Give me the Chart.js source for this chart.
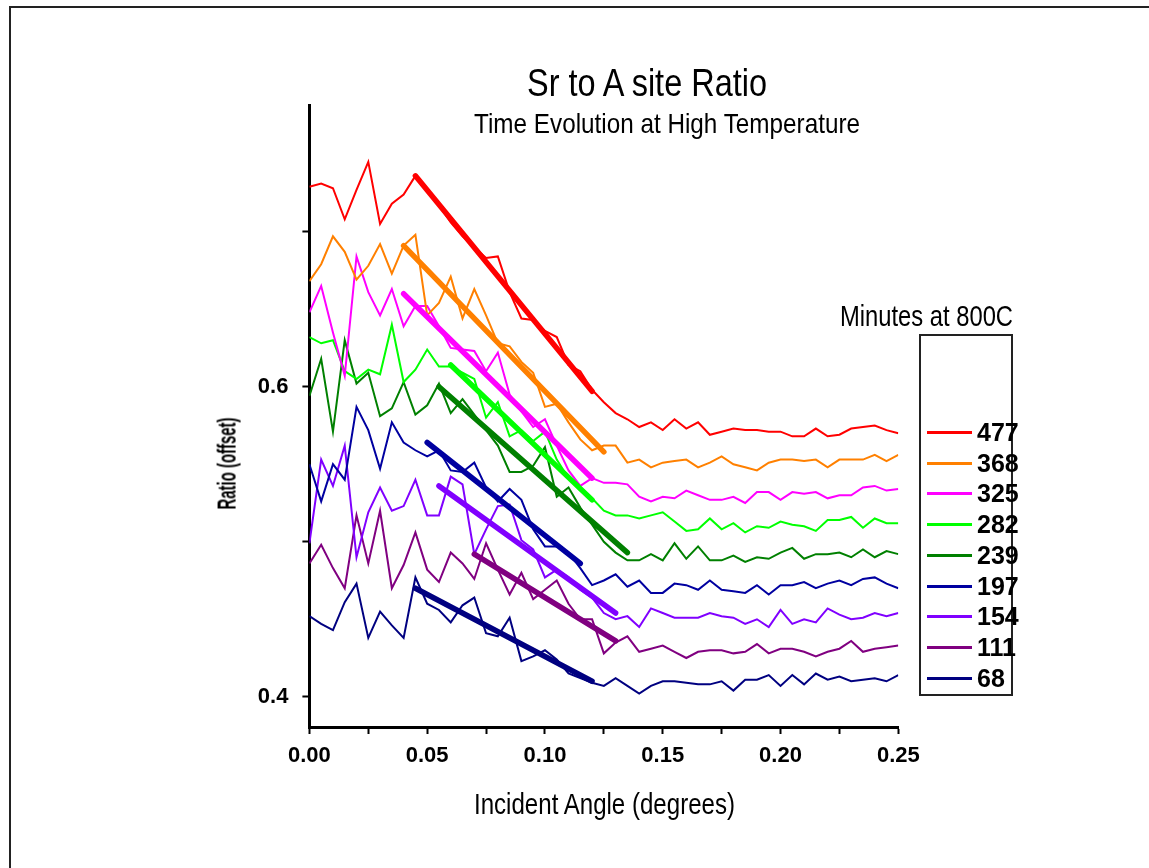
<!DOCTYPE html>
<html>
<head>
<meta charset="utf-8">
<script src="https://cdn.jsdelivr.net/npm/chart.js@4.4.1/dist/chart.umd.min.js"></script>
<style>
  html, body { margin:0; padding:0; background:#fff; width:1149px; height:868px; overflow:hidden; }
  #wrap { position:relative; width:1149px; height:868px; overflow:hidden; }
  #c { position:absolute; left:0; top:0; }
  .fl { position:absolute; left:9px; top:6px; width:2px; height:862px; background:#222; }
  .ft { position:absolute; left:9px; top:6px; width:1140px; height:2px; background:#222; }
  .t { position:absolute; white-space:nowrap; line-height:1; color:#000; font-family:'Liberation Sans Narrow','Arial Narrow','Liberation Sans',Arial,sans-serif; transform-origin:0 0; }
  .legbox { position:absolute; left:919px; top:334px; width:90px; height:358px; border:2px solid #222; }
  .legline { position:absolute; height:3px; width:45px; left:927px; }
</style>
</head>
<body>
<div id="wrap">
  <div class="fl"></div>
  <div class="ft"></div>
  <canvas id="c" width="1149" height="868"></canvas>
  <div class="legbox"></div>
</div>
<script>
// ---------- data ----------
const xValues = [0,0.005,0.01,0.015,0.02,0.025,0.03,0.035,0.04,0.045,0.05,0.055,0.06,0.065,0.07,0.075,0.08,0.085,0.09,0.095,0.1,0.105,0.11,0.115,0.12,0.125,0.13,0.135,0.14,0.145,0.15,0.155,0.16,0.165,0.17,0.175,0.18,0.185,0.19,0.195,0.2,0.205,0.21,0.215,0.22,0.225,0.23,0.235,0.24,0.245,0.25];

const seriesLabels = ['477','368','325','282','239','197','154','111','68'];
const seriesColors = ['#ff0000','#ff8000','#ff00ff','#00ff00','#008000','#0000a0','#8000ff','#800080','#000080'];

const s477 = [0.729,0.731,0.728,0.708,0.727,0.745,0.705,0.718,0.724,0.736,0.726,0.717,0.706,0.697,0.690,0.683,0.684,0.661,0.644,0.643,0.636,0.632,0.614,0.610,0.598,0.590,0.583,0.579,0.574,0.577,0.572,0.579,0.573,0.577,0.569,0.571,0.573,0.572,0.572,0.571,0.571,0.568,0.568,0.573,0.568,0.569,0.573,0.574,0.575,0.572,0.570];
const s368 = [0.668,0.679,0.697,0.687,0.669,0.678,0.692,0.673,0.691,0.698,0.646,0.654,0.671,0.644,0.663,0.646,0.628,0.626,0.616,0.609,0.587,0.589,0.577,0.566,0.559,0.562,0.562,0.551,0.553,0.548,0.551,0.552,0.553,0.548,0.551,0.555,0.550,0.548,0.546,0.551,0.553,0.553,0.552,0.553,0.548,0.553,0.553,0.553,0.556,0.552,0.556];
const s325 = [0.648,0.665,0.635,0.607,0.684,0.661,0.646,0.663,0.639,0.652,0.652,0.639,0.625,0.624,0.623,0.610,0.622,0.595,0.584,0.574,0.579,0.562,0.546,0.536,0.541,0.538,0.538,0.537,0.529,0.526,0.529,0.528,0.533,0.530,0.527,0.527,0.529,0.525,0.532,0.532,0.527,0.532,0.531,0.532,0.528,0.530,0.530,0.535,0.536,0.533,0.534];
const s282 = [0.632,0.628,0.630,0.610,0.605,0.611,0.608,0.640,0.603,0.611,0.624,0.613,0.613,0.609,0.605,0.580,0.590,0.568,0.572,0.565,0.571,0.553,0.541,0.533,0.528,0.520,0.517,0.517,0.515,0.517,0.519,0.513,0.507,0.508,0.515,0.508,0.512,0.506,0.510,0.509,0.513,0.511,0.510,0.507,0.514,0.514,0.516,0.509,0.515,0.512,0.512];
const s239 = [0.594,0.618,0.571,0.630,0.602,0.609,0.581,0.586,0.603,0.582,0.588,0.602,0.583,0.592,0.582,0.572,0.562,0.545,0.545,0.549,0.561,0.529,0.535,0.522,0.511,0.500,0.493,0.488,0.488,0.492,0.488,0.499,0.489,0.497,0.488,0.488,0.491,0.487,0.490,0.489,0.493,0.496,0.489,0.492,0.492,0.493,0.490,0.495,0.490,0.494,0.492];
const s197 = [0.550,0.526,0.550,0.540,0.587,0.572,0.547,0.577,0.564,0.559,0.555,0.559,0.546,0.545,0.551,0.535,0.526,0.534,0.527,0.508,0.497,0.497,0.493,0.483,0.472,0.475,0.479,0.471,0.475,0.467,0.467,0.473,0.472,0.469,0.475,0.469,0.468,0.467,0.472,0.466,0.472,0.472,0.474,0.470,0.473,0.475,0.472,0.476,0.477,0.473,0.470];
const s154 = [0.499,0.553,0.536,0.562,0.490,0.519,0.535,0.520,0.523,0.540,0.517,0.517,0.542,0.537,0.492,0.508,0.523,0.524,0.501,0.495,0.477,0.482,0.477,0.469,0.464,0.454,0.450,0.452,0.445,0.457,0.454,0.451,0.451,0.451,0.454,0.452,0.451,0.447,0.450,0.445,0.456,0.447,0.450,0.448,0.457,0.453,0.450,0.451,0.454,0.452,0.454];
const s111 = [0.486,0.498,0.483,0.470,0.517,0.486,0.520,0.470,0.485,0.506,0.482,0.474,0.493,0.486,0.476,0.499,0.482,0.466,0.480,0.463,0.469,0.475,0.460,0.450,0.450,0.428,0.435,0.439,0.429,0.431,0.433,0.429,0.425,0.429,0.430,0.430,0.428,0.429,0.434,0.428,0.431,0.431,0.429,0.426,0.429,0.431,0.436,0.429,0.431,0.432,0.433];
const s68  = [0.452,0.447,0.443,0.461,0.473,0.438,0.455,0.446,0.438,0.477,0.460,0.456,0.448,0.459,0.464,0.441,0.439,0.451,0.423,0.426,0.430,0.424,0.415,0.412,0.409,0.407,0.412,0.407,0.402,0.407,0.410,0.410,0.409,0.408,0.408,0.410,0.404,0.411,0.411,0.414,0.407,0.414,0.408,0.415,0.411,0.413,0.410,0.411,0.412,0.410,0.414];

// linear-fit segments (start/end angle, start/end ratio)
const fitX477 = [0.045, 0.120], fitY477 = [0.736, 0.597];
const fitX368 = [0.040, 0.125], fitY368 = [0.691, 0.558];
const fitX325 = [0.040, 0.120], fitY325 = [0.660, 0.541];
const fitX282 = [0.060, 0.120], fitY282 = [0.614, 0.527];
const fitX239 = [0.055, 0.135], fitY239 = [0.600, 0.493];
const fitX197 = [0.050, 0.115], fitY197 = [0.564, 0.486];
const fitX154 = [0.055, 0.130], fitY154 = [0.536, 0.454];
const fitX111 = [0.070, 0.130], fitY111 = [0.492, 0.436];
const fitX68  = [0.045, 0.120], fitY68  = [0.470, 0.410];

const xTickValues = [0,0.025,0.05,0.075,0.1,0.125,0.15,0.175,0.2,0.225,0.25];
const xTickLabels = ['0.00','','0.05','','0.10','','0.15','','0.20','','0.25'];
const yTickValues = [0.4,0.5,0.6,0.7];
const yTickLabels = ['0.4','','0.6',''];

const titleText = 'Sr to A site Ratio';
const subtitleText = 'Time Evolution at High Temperature';
const xTitleText = 'Incident Angle (degrees)';
const yTitleText = 'Ratio (offset)';
const legendTitleText = 'Minutes at 800C';

// ---------- build ----------
const seriesData = [s477,s368,s325,s282,s239,s197,s154,s111,s68];
const fitData = [[fitX477,fitY477],[fitX368,fitY368],[fitX325,fitY325],[fitX282,fitY282],[fitX239,fitY239],[fitX197,fitY197],[fitX154,fitY154],[fitX111,fitY111],[fitX68,fitY68]];

const datasets = [];
seriesData.forEach((arr, i) => {
  datasets.push({
    label: seriesLabels[i],
    data: arr.map((v, k) => ({x: xValues[k], y: v})),
    borderColor: seriesColors[i], borderWidth: 2, pointRadius: 0, tension: 0, fill: false, order: 2,
    borderJoinStyle: 'miter'
  });
});
fitData.forEach((f, i) => {
  datasets.push({
    label: seriesLabels[i] + ' fit',
    data: f[0].map((x, k) => ({x: x, y: f[1][k]})),
    borderColor: seriesColors[i], borderWidth: 5.5, pointRadius: 0, tension: 0, fill: false, order: 1,
    borderCapStyle: 'round'
  });
});

const tickFont = { family: "'Liberation Sans Narrow','Arial Narrow','Liberation Sans',Arial,sans-serif", size: 22, weight: 'bold' };

new Chart(document.getElementById('c'), {
  type: 'line',
  data: { datasets },
  options: {
    responsive: false, animation: false, devicePixelRatio: 1,
    layout: { padding: { left: 209.4, right: 250.7, top: 105, bottom: 41 } },
    plugins: { legend: { display: false }, title: { display: false }, tooltip: { enabled: false } },
    scales: {
      x: {
        type: 'linear', min: 0, max: 0.25,
        afterBuildTicks: s => { s.ticks = xTickValues.map(v => ({ value: v })); },
        afterFit: s => { s.height = 100; },
        ticks: { callback: (v, idx) => xTickLabels[idx], font: tickFont, color: '#000', padding: 9, maxRotation: 0, autoSkip: false },
        grid: { drawOnChartArea: false, drawTicks: true, tickLength: 7, tickWidth: 2, tickColor: '#000' },
        border: { display: true, color: '#000', width: 3 }
      },
      y: {
        type: 'linear', min: 0.3805, max: 0.7817,
        afterBuildTicks: s => { s.ticks = yTickValues.map(v => ({ value: v })); },
        afterFit: s => { s.width = 100; },
        ticks: { callback: (v, idx) => yTickLabels[idx], font: tickFont, color: '#000', padding: 14, autoSkip: false },
        grid: { drawOnChartArea: false, drawTicks: true, tickLength: 7, tickWidth: 2, tickColor: '#000' },
        border: { display: true, color: '#000', width: 3 }
      }
    }
  }
});

// ---------- text overlays ----------
const wrap = document.getElementById('wrap');
function addText(txt, opts) {
  const d = document.createElement('div');
  d.className = 't';
  d.textContent = txt;
  d.style.fontSize = opts.size + 'px';
  d.style.fontWeight = opts.bold ? 'bold' : 'normal';
  wrap.appendChild(d);
  const w = d.getBoundingClientRect().width;
  const sx = opts.width ? opts.width / w : 1;
  const left = opts.cx !== undefined ? opts.cx - (w * sx) / 2 : opts.left;
  d.style.left = left + 'px';
  d.style.top = opts.top + 'px';
  d.style.transform = 'scaleX(' + sx + ')';
  return d;
}
addText(titleText, { size: 39, cx: 647, top: 63, width: 240 });
addText(subtitleText, { size: 28, cx: 667, top: 110, width: 386 });
addText(xTitleText, { size: 29, cx: 604, top: 790, width: 261 });
addText(legendTitleText, { size: 30, left: 840, top: 301, width: 173 });

// y title (rotated)
(function () {
  const d = document.createElement('div');
  d.className = 't';
  d.textContent = yTitleText;
  d.style.fontSize = '25px';
  d.style.fontWeight = 'bold';
  wrap.appendChild(d);
  const r = d.getBoundingClientRect();
  const target = 92;
  const s = target / r.width;
  d.style.transformOrigin = '50% 50%';
  d.style.left = (227 - r.width / 2) + 'px';
  d.style.top = (463 - r.height / 2) + 'px';
  d.style.transform = 'rotate(-90deg) scaleX(' + s + ')';
})();

// legend rows
seriesLabels.forEach((lab, i) => {
  const cy = 432.3 + i * 30.75;
  const ln = document.createElement('div');
  ln.className = 'legline';
  ln.style.top = (cy - 1.5) + 'px';
  ln.style.background = seriesColors[i];
  wrap.appendChild(ln);
  const d = document.createElement('div');
  d.className = 't';
  d.textContent = lab;
  d.style.fontSize = '25px';
  d.style.fontWeight = 'bold';
  d.style.left = '977px';
  d.style.top = (cy - 12.5) + 'px';
  wrap.appendChild(d);
});
</script>
</body>
</html>
